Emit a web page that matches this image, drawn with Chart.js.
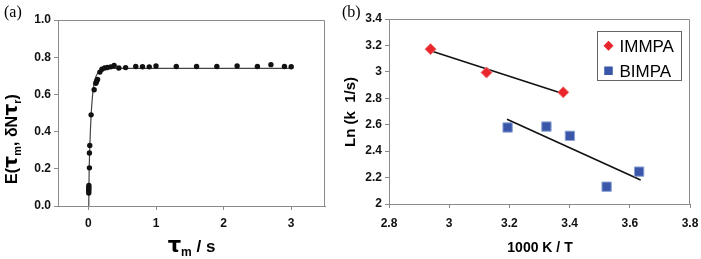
<!DOCTYPE html>
<html><head><meta charset="utf-8">
<script src="https://cdn.jsdelivr.net/npm/chart.js@4/dist/chart.umd.min.js"></script>
<style>
html,body{margin:0;padding:0;background:#fff;width:701px;height:259px;overflow:hidden}
#a{position:absolute;left:0;top:0}
#b{position:absolute;left:340px;top:0}
</style></head><body>
<canvas id="a" width="340" height="259"></canvas>
<canvas id="b" width="361" height="259"></canvas>
<script>
// ---- Panel (a) data ----
const mixTimes = [0.005,0.005,0.005,0.006,0.007,0.015,0.015,0.02,0.04,0.085,0.11,0.12,0.135,0.17,0.2,0.24,0.28,0.33,0.38,0.45,0.55,0.7,0.8,0.9,1.0,1.3,1.6,1.9,2.2,2.5,2.7,2.9,3.0];
const mixEff   = [0.07,0.08,0.09,0.10,0.11,0.205,0.285,0.325,0.49,0.625,0.66,0.67,0.68,0.72,0.735,0.742,0.745,0.748,0.755,0.742,0.744,0.75,0.749,0.748,0.753,0.75,0.75,0.75,0.753,0.75,0.76,0.75,0.749];
const fitTimes = [0.005,0.01,0.02,0.03,0.04,0.06,0.08,0.1,0.13,0.16,0.2,0.25,0.3,0.4,3.0];
const fitEff   = [0,0.17,0.31,0.41,0.49,0.59,0.65,0.685,0.71,0.725,0.733,0.738,0.74,0.74,0.74];
const aXTicks = [0,1,2,3];
const aYTicks = [0,0.2,0.4,0.6,0.8,1.0];
// ---- Panel (b) data ----
const immpaX = [2.938,3.124,3.379];
const immpaY = [3.172,2.995,2.845];
const bimpaX = [3.194,3.323,3.401,3.523,3.631];
const bimpaY = [2.579,2.586,2.516,2.131,2.245];
const immpaFitX = [2.938,3.379];
const immpaFitY = [3.160,2.834];
const bimpaFitX = [3.192,3.636];
const bimpaFitY = [2.642,2.182];
const bXTicks = [2.8,3.0,3.2,3.4,3.6,3.8];
const bYTicks = [2.0,2.2,2.4,2.6,2.8,3.0,3.2,3.4];
const seriesNames = ['IMMPA','BIMPA'];

const pts = (xs,ys)=>xs.map((x,i)=>({x:x,y:ys[i]}));
Chart.defaults.font.family = "'Liberation Sans', Arial, sans-serif";
const AX = '#8a8a8a';
const tickFont = {size:12, weight:'bold'};

function rich(ctx, x, y, segs, rot){
  ctx.save();
  ctx.translate(x,y);
  if(rot) ctx.rotate(rot);
  let total=0;
  segs.forEach(s=>{ctx.font=s.f; total+=ctx.measureText(s.t).width;});
  let cx=-total/2;
  ctx.textBaseline='alphabetic'; ctx.textAlign='left'; ctx.fillStyle='#000';
  segs.forEach(s=>{ctx.font=s.f; ctx.fillText(s.t,cx,s.dy||0); cx+=ctx.measureText(s.t).width;});
  ctx.restore();
}
const framePlugin = {id:'frame', afterDatasetsDraw(c){
  const a=c.chartArea, ctx=c.ctx; ctx.save(); ctx.strokeStyle=AX; ctx.lineWidth=1;
  ctx.beginPath(); ctx.moveTo(Math.round(a.left)+0.5,Math.round(a.top)+0.5);
  ctx.lineTo(Math.round(a.right)-0.5,Math.round(a.top)+0.5);
  ctx.lineTo(Math.round(a.right)-0.5,Math.round(a.bottom)); ctx.stroke(); ctx.restore();
}};

function axisCfg(min,max,ticks,fmt,size,pad,isX){
  return {type:'linear', min:min, max:max,
    afterBuildTicks:s=>{s.ticks=ticks.map(v=>({value:v}));},
    ticks:{font:tickFont, color:'#111', padding:pad, autoSkip:false, maxRotation:0, callback:fmt},
    grid:{drawOnChartArea:false, drawTicks:true, tickLength:4, color:AX},
    border:{color:AX, width:1},
    title:{display:false},
    afterFit:s=>{ if(isX){s.height=size;} else {s.width=size;}
      s.paddingLeft=0; s.paddingRight=0; s.paddingTop=0; s.paddingBottom=0; }};
}

// ---- Chart (a) ----
new Chart(document.getElementById('a'),{
  type:'scatter',
  data:{datasets:[
    {data:pts(mixTimes,mixEff), pointRadius:2.7, pointBackgroundColor:'#111', pointBorderColor:'#111', pointBorderWidth:0, showLine:false},
    {data:pts(fitTimes,fitEff), showLine:true, pointRadius:0, borderColor:'#444', borderWidth:1.2, cubicInterpolationMode:'monotone', fill:false}
  ]},
  options:{responsive:false, animation:false, devicePixelRatio:1,
    layout:{padding:{top:20,right:15,left:0,bottom:0}},
    plugins:{legend:{display:false}, tooltip:{enabled:false}},
    scales:{
      x:axisCfg(-0.45,3.5,aXTicks,v=>String(v),53,6,true),
      y:axisCfg(0,1.0,aYTicks,v=>v.toFixed(1),58,3,false)
    }},
  plugins:[framePlugin,{id:'txtA', afterDraw(c){
    const ctx=c.ctx;
    ctx.save(); ctx.font="16px 'Liberation Serif', serif"; ctx.fillStyle='#000'; ctx.fillText('(a)',4,17); ctx.restore();
    const B="bold 17px 'Liberation Sans', Arial, sans-serif", T="bold 21px 'DejaVu Sans', sans-serif", S="bold 12px 'Liberation Sans', Arial, sans-serif";
    rich(ctx,191.5,252,[{t:'τ',f:T},{t:'m',f:S,dy:4},{t:' / s',f:B}]);
    const B2="bold 16px 'Liberation Sans', Arial, sans-serif", T2="bold 19px 'DejaVu Sans', sans-serif", S2="bold 11px 'Liberation Sans', Arial, sans-serif";
    rich(ctx,17,139,[{t:'E(',f:B2},{t:'τ',f:T2},{t:'m',f:S2,dy:4},{t:', δN',f:B2},{t:'τ',f:T2},{t:'r',f:S2,dy:4},{t:')',f:B2}],-Math.PI/2);
  }}]
});

// ---- Chart (b) ----
new Chart(document.getElementById('b'),{
  type:'scatter',
  data:{datasets:[
    {label:seriesNames[0], data:pts(immpaX,immpaY), pointStyle:'rectRot', pointRadius:5.5, pointBackgroundColor:'#e8262b', pointBorderColor:'#f07070', pointBorderWidth:1, showLine:false},
    {label:seriesNames[1], data:pts(bimpaX,bimpaY), pointStyle:'rect', pointRadius:6.6, pointBackgroundColor:'#3a56a8', pointBorderColor:'#8ea3d6', pointBorderWidth:1, showLine:false},
    {data:pts(immpaFitX,immpaFitY), showLine:true, pointRadius:0, borderColor:'#111', borderWidth:1.6},
    {data:pts(bimpaFitX,bimpaFitY), showLine:true, pointRadius:0, borderColor:'#111', borderWidth:1.6}
  ]},
  options:{responsive:false, animation:false, devicePixelRatio:1,
    layout:{padding:{top:19,right:11,left:0,bottom:0}},
    plugins:{legend:{display:false}, tooltip:{enabled:false}},
    scales:{
      x:axisCfg(2.8,3.8,bXTicks,v=>String(Math.round(v*10)/10),55,8,true),
      y:axisCfg(2.0,3.4,bYTicks,v=>String(Math.round(v*10)/10),49,3,false)
    }},
  plugins:[framePlugin,{id:'txtB', afterDraw(c){
    const ctx=c.ctx;
    ctx.save(); ctx.font="16px 'Liberation Serif', serif"; ctx.fillStyle='#000'; ctx.fillText('(b)',2,17); ctx.restore();
    rich(ctx,200,251.5,[{t:'1000 K / T',f:"bold 14px 'Liberation Sans', Arial, sans-serif"}]);
    rich(ctx,15,112,[{t:'Ln (k  1/s)',f:"bold 15px 'Liberation Sans', Arial, sans-serif"}],-Math.PI/2);
    // legend box
    const L=257;
    ctx.save();
    ctx.fillStyle='#fff'; ctx.fillRect(L+0.5,31.5,84,49);
    ctx.strokeStyle='#666'; ctx.lineWidth=1; ctx.strokeRect(L+0.5,31.5,84,49);
    const ds=c.data.datasets;
    const mx=L+11.5;
    ctx.fillStyle=ds[0].pointBackgroundColor; ctx.beginPath();
    ctx.moveTo(mx-5,45.7); ctx.lineTo(mx,40.7); ctx.lineTo(mx+5,45.7); ctx.lineTo(mx,50.7); ctx.closePath(); ctx.fill();
    ctx.fillStyle=ds[1].pointBackgroundColor; ctx.fillRect(mx-4.25,66.5,8.5,8.5);
    ctx.fillStyle='#000'; ctx.font="17px 'Liberation Sans', Arial, sans-serif"; ctx.textBaseline='alphabetic';
    ctx.fillText(ds[0].label,L+22.5,51.8); ctx.fillText(ds[1].label,L+22.5,76.8);
    ctx.restore();
  }}]
});
</script>
</body></html>
